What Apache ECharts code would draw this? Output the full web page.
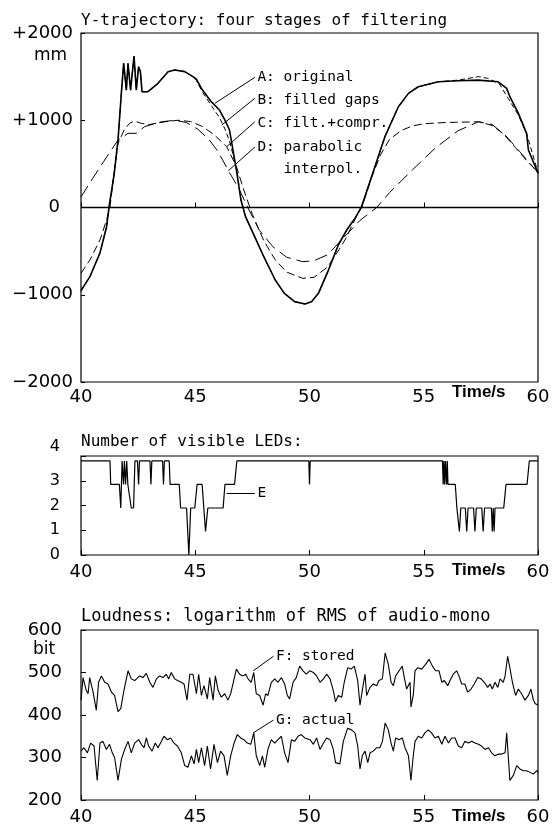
<!DOCTYPE html>
<html>
<head>
<meta charset="utf-8">
<script src="https://cdn.jsdelivr.net/npm/echarts/dist/echarts.min.js"></script>
<style>html,body{margin:0;padding:0;background:#fff}#chart{width:553px;height:826px}</style>
</head>
<body>
<div id="chart"></div>
<script>
// Y-trajectory, [time s, mm]
var origA = [[40,-953],[40.39,-793],[40.83,-522],[41.12,-220],[41.23,9],[41.45,380],[41.62,773],[41.765,1308],[41.867,1652],[41.984,1345],[42.057,1652],[42.17,1345],[42.32,1736],[42.42,1345],[42.52,1614],[42.6,1557],[42.67,1327],[42.93,1327],[43.37,1423],[43.81,1557],[44.1,1576],[44.54,1557],[44.9,1500],[45.05,1470],[45.27,1365],[45.7,1213],[46.06,1117],[46.3,1002],[46.5,888],[46.7,584],[46.8,430],[47.0,86],[47.2,-105],[47.6,-334],[48.0,-564],[48.5,-831],[48.9,-984],[49.35,-1079],[49.8,-1106],[50.09,-1079],[50.39,-984],[50.83,-717],[51.26,-430],[51.63,-258],[51.99,-124],[52.28,10],[52.72,354],[53.3,812],[53.89,1155],[54.33,1308],[54.76,1384],[55.64,1441],[56.51,1453],[57.39,1460],[58.26,1441],[58.63,1365],[58.77,1270],[59.14,1079],[59.5,850],[59.58,659],[60,392]];
var filledB = [[40,-960],[40.39,-790],[40.83,-520],[41.12,-220],[41.23,0],[41.45,400],[41.62,773],[41.765,1308],[41.867,1652],[41.984,1345],[42.057,1652],[42.17,1345],[42.32,1736],[42.42,1345],[42.52,1614],[42.6,1557],[42.67,1327],[42.93,1327],[43.37,1423],[43.81,1557],[44.1,1576],[44.54,1557],[44.9,1500],[45.05,1460],[45.3,1330],[45.7,1170],[46.06,1030],[46.3,900],[46.5,760],[46.7,560],[46.85,380],[47.0,80],[47.2,-105],[47.6,-334],[48.0,-564],[48.5,-831],[48.9,-984],[49.35,-1079],[49.8,-1106],[50.09,-1079],[50.39,-984],[50.83,-717],[51.26,-430],[51.63,-258],[51.99,-124],[52.28,10],[52.72,354],[53.3,812],[53.89,1155],[54.33,1308],[54.76,1384],[55.64,1441],[56.51,1460],[57.39,1500],[57.8,1480],[58.3,1420],[58.7,1250],[59.14,1060],[59.5,850],[60,400]];
var filtC = [[40,-754],[40.39,-602],[40.83,-372],[41.12,-143],[41.27,9],[41.45,400],[41.62,735],[41.91,900],[42.15,970],[42.35,990],[42.64,964],[43.0,951],[43.66,982],[44.25,1000],[44.8,985],[45.3,930],[45.8,840],[46.38,697],[46.8,470],[47.1,220],[47.5,-80],[48.0,-380],[48.5,-600],[49.0,-740],[49.7,-812],[50.2,-800],[50.8,-680],[51.3,-480],[51.6,-350],[52.0,-130],[52.3,10],[52.7,330],[53.1,600],[53.5,780],[54.0,880],[54.5,935],[55.0,960],[56.0,975],[57.0,980],[57.4,983],[58.0,940],[58.5,840],[59.0,690],[59.5,540],[60,400]];
var parabD = [[40,120],[40.5,330],[41.0,530],[41.62,773],[42.06,850],[42.42,850],[42.79,928],[43.52,982],[44.1,1000],[44.6,975],[45.1,900],[45.6,780],[46.0,640],[46.45,422],[46.9,220],[47.3,0],[47.8,-260],[48.4,-450],[49.0,-570],[49.7,-621],[50.2,-610],[50.8,-540],[51.4,-372],[52.2,-150],[52.94,0],[53.5,170],[54.5,430],[55.5,680],[56.5,880],[57.4,983],[58.0,950],[58.6,820],[59.2,640],[60,400]];

// number of visible LEDs, [time s, count]
var ledE = [[40,3.8],[41.27,3.8],[41.3,2.85],[41.68,2.85],[41.74,1.9],[41.8,3.8],[41.86,2.85],[41.9,3.8],[41.95,2.85],[42.0,3.8],[42.05,2.85],[42.1,2.85],[42.2,1.9],[42.3,1.9],[42.36,3.8],[42.47,3.8],[42.52,2.85],[42.56,3.8],[43.02,3.8],[43.06,2.85],[43.1,3.8],[43.57,3.8],[43.61,2.85],[43.65,3.8],[43.86,3.8],[43.9,2.85],[44.3,2.85],[44.36,1.9],[44.62,1.9],[44.72,0],[44.8,1.9],[44.98,1.9],[45.08,2.85],[45.3,2.85],[45.45,0.95],[45.55,1.9],[46.22,1.9],[46.3,2.85],[46.72,2.85],[46.82,3.8],[49.97,3.8],[50.0,2.85],[50.03,3.8],[55.82,3.8],[55.85,2.85],[55.88,3.8],[55.92,2.85],[55.95,3.8],[56.0,2.85],[56.03,3.8],[56.06,2.85],[56.38,2.85],[56.45,1.9],[56.5,1.9],[56.56,0.95],[56.62,1.9],[56.82,1.9],[56.88,0.95],[56.94,1.9],[57.18,1.9],[57.24,0.95],[57.3,1.9],[57.54,1.9],[57.6,0.95],[57.66,1.9],[57.96,1.9],[58.0,0.95],[58.04,1.9],[58.08,0.95],[58.12,1.9],[58.5,1.9],[58.6,2.85],[59.52,2.85],[59.62,3.8],[60,3.8]];

// loudness, [time s, bit]
var storedF = [[40.0,435],[40.09,488],[40.23,458],[40.31,450],[40.38,488],[40.53,454],[40.67,411],[40.77,477],[40.89,492],[41.04,477],[41.18,473],[41.33,454],[41.47,446],[41.62,408],[41.74,415],[41.88,458],[42.06,504],[42.2,485],[42.35,481],[42.57,492],[42.71,488],[42.86,498],[43.01,477],[43.15,465],[43.3,485],[43.44,492],[43.59,488],[43.73,496],[43.84,485],[43.95,500],[44.1,485],[44.22,481],[44.39,477],[44.51,473],[44.64,435],[44.76,496],[44.9,496],[45.05,450],[45.15,496],[45.27,446],[45.38,469],[45.53,438],[45.63,488],[45.78,435],[45.88,492],[46.0,458],[46.14,442],[46.29,450],[46.43,435],[46.55,450],[46.65,473],[46.8,508],[46.94,496],[47.09,492],[47.21,496],[47.31,485],[47.45,477],[47.56,500],[47.67,450],[47.82,446],[47.97,423],[48.08,450],[48.18,446],[48.33,477],[48.48,485],[48.62,477],[48.77,488],[48.91,473],[49.03,446],[49.13,438],[49.28,477],[49.42,488],[49.57,515],[49.72,504],[49.86,496],[50.01,504],[50.17,500],[50.31,492],[50.46,477],[50.61,485],[50.75,496],[50.9,485],[51.04,458],[51.14,431],[51.26,446],[51.41,442],[51.52,477],[51.67,511],[51.82,508],[51.96,515],[52.11,481],[52.21,423],[52.31,458],[52.43,496],[52.5,446],[52.65,465],[52.79,473],[52.94,469],[53.04,481],[53.19,485],[53.31,546],[53.45,519],[53.57,477],[53.67,469],[53.77,492],[53.92,504],[54.06,515],[54.15,488],[54.25,461],[54.4,477],[54.44,419],[54.54,446],[54.62,504],[54.73,511],[54.91,508],[55.08,519],[55.23,531],[55.38,515],[55.52,504],[55.67,504],[55.79,477],[55.9,481],[56.05,469],[56.15,481],[56.29,496],[56.44,504],[56.54,492],[56.66,473],[56.8,473],[56.92,454],[57.07,461],[57.21,473],[57.36,488],[57.51,485],[57.65,477],[57.8,465],[57.9,473],[58.0,461],[58.12,477],[58.24,465],[58.34,485],[58.48,477],[58.56,492],[58.67,538],[58.77,511],[58.88,477],[59.02,446],[59.14,461],[59.28,450],[59.43,435],[59.58,446],[59.69,461],[59.8,435],[59.87,427],[60,423]];
var actualG = [[40.0,315],[40.13,323],[40.28,311],[40.42,334],[40.57,327],[40.71,246],[40.83,334],[40.96,338],[41.11,319],[41.25,331],[41.37,311],[41.47,300],[41.62,246],[41.77,296],[41.91,319],[42.06,338],[42.2,311],[42.35,334],[42.52,342],[42.64,331],[42.76,323],[42.86,346],[42.96,327],[43.11,315],[43.25,334],[43.37,323],[43.52,338],[43.63,350],[43.78,342],[43.92,346],[44.07,334],[44.22,327],[44.39,311],[44.54,281],[44.68,277],[44.83,304],[44.95,285],[45.05,319],[45.15,288],[45.27,323],[45.41,281],[45.53,327],[45.67,273],[45.82,331],[45.97,288],[46.11,315],[46.26,304],[46.4,258],[46.55,304],[46.7,334],[46.84,354],[46.99,346],[47.13,342],[47.28,334],[47.43,331],[47.56,358],[47.67,304],[47.82,281],[47.94,304],[48.04,277],[48.18,319],[48.33,342],[48.48,334],[48.62,342],[48.77,350],[48.91,311],[49.06,288],[49.21,342],[49.35,338],[49.5,350],[49.64,354],[49.79,346],[50.02,342],[50.17,331],[50.31,346],[50.46,319],[50.61,334],[50.75,346],[50.9,342],[51.04,319],[51.14,288],[51.33,285],[51.48,338],[51.67,369],[51.84,365],[51.99,358],[52.11,327],[52.21,273],[52.31,304],[52.43,315],[52.55,288],[52.65,311],[52.79,315],[52.94,323],[53.08,323],[53.19,338],[53.31,381],[53.45,365],[53.57,334],[53.67,315],[53.77,346],[53.92,342],[54.06,346],[54.18,323],[54.33,304],[54.44,246],[54.54,304],[54.62,338],[54.76,350],[54.91,346],[55.05,358],[55.2,365],[55.34,358],[55.49,346],[55.64,350],[55.79,331],[55.93,350],[56.08,334],[56.22,346],[56.37,346],[56.51,327],[56.66,323],[56.8,338],[56.95,334],[57.1,338],[57.24,334],[57.39,331],[57.53,327],[57.68,319],[57.83,323],[57.97,311],[58.12,304],[58.27,308],[58.41,308],[58.56,311],[58.63,358],[58.7,358],[58.77,246],[58.92,258],[59.07,281],[59.21,273],[59.36,269],[59.5,269],[59.65,265],[59.8,261],[59.94,269],[60,265]];

var chart = echarts.init(document.getElementById('chart'));
var FONT = 'DejaVu Sans';
var MONO = 'DejaVu Sans Mono';
var black = '#000';

function xAxisFor(grid, margin) {
  return {
    type: 'value', gridIndex: grid, min: 40, max: 60, interval: 5,
    axisLine: { show: false },
    axisTick: { inside: true, length: 5, lineStyle: { color: black } },
    splitLine: { show: false },
    axisLabel: { color: black, fontFamily: FONT, fontSize: 18, margin: margin }
  };
}

// leader line from a curve to its label, in data coordinates
function leader(from, to) {
  return {
    silent: true, symbol: 'none', animation: false,
    lineStyle: { color: black, width: 1, type: 'solid' },
    label: { show: false },
    data: [[{ coord: from }, { coord: to }]]
  };
}

function tag(at, text, extra) {
  var lbl = { show: true, position: 'right', distance: 2, color: black, fontFamily: MONO, fontSize: 14.5,
    formatter: function () { return text; } };
  if (extra) for (var k in extra) lbl[k] = extra[k];
  return {
    silent: true, animation: false, symbol: 'circle', symbolSize: 1,
    itemStyle: { color: 'rgba(0,0,0,0)' },
    label: lbl,
    data: [{ coord: at }]
  };
}

function line(data, xi, width, dash, from, to, text, extra) {
  var s = {
    type: 'line', xAxisIndex: xi, yAxisIndex: xi, data: data, showSymbol: false,
    lineStyle: { color: black, width: width, type: dash }, animation: false, silent: true
  };
  if (from) {
    s.markLine = leader(from, to);
    s.markPoint = tag(to, text, extra);
  }
  return s;
}

function titleAt(text, top, size) {
  return { text: text, left: 81, top: top, padding: 0,
    textStyle: { fontFamily: MONO, fontSize: size, fontWeight: 'normal', color: black } };
}

function axisName(text, left, top) {
  return { type: 'text', left: left, top: top, style: { text: text, font: '17px "DejaVu Sans"', fill: black } };
}

var option = {
  animation: false,
  title: [
    titleAt('Y-trajectory: four stages of filtering', 13, 16),
    titleAt('Number of visible LEDs:', 434, 16),
    titleAt('Loudness: logarithm of RMS of audio-mono', 608, 17)
  ],
  grid: [
    { left: 81, top: 33, width: 457, height: 349, show: true, borderColor: black, borderWidth: 1.2 },
    { left: 81, top: 456, width: 457, height: 99, show: true, borderColor: black, borderWidth: 1.2 },
    { left: 81, top: 630, width: 457, height: 173, show: true, borderColor: black, borderWidth: 1.2 }
  ],
  xAxis: [xAxisFor(0, 6), xAxisFor(1, 8), xAxisFor(2, 8)],
  yAxis: [
    { type: 'value', gridIndex: 0, min: -2000, max: 2000, interval: 1000,
      axisLine: { show: false }, splitLine: { show: false },
      axisTick: { inside: true, length: 4, lineStyle: { color: black } },
      axisLabel: { color: black, fontFamily: FONT, fontSize: 18, margin: 8,
        formatter: function (v) { return v > 0 ? '+' + v : (v < 0 ? '\u2212' + (-v) : '{z|0}'); },
        rich: { z: { fontFamily: FONT, fontSize: 18, color: black, padding: [0, 13, 0, 0] } } } },
    { type: 'value', gridIndex: 1, min: 0, max: 4, interval: 1,
      axisLine: { show: false }, splitLine: { show: false },
      axisTick: { inside: true, length: 5, lineStyle: { color: black } },
      axisLabel: { color: black, fontFamily: FONT, fontSize: 16, margin: 21,
        formatter: function (v) { return v === 4 ? '{t|4}' : String(v); },
        rich: { t: { fontFamily: FONT, fontSize: 16, color: black, padding: [0, 0, 18, 0] } } } },
    { type: 'value', gridIndex: 2, min: 200, max: 600, interval: 100,
      axisLine: { show: false }, splitLine: { show: false },
      axisTick: { inside: true, length: 5, lineStyle: { color: black } },
      axisLabel: { color: black, fontFamily: FONT, fontSize: 18, margin: 19 } }
  ],
  graphic: [
    axisName('mm', 34, 47),
    axisName('bit', 33, 641),
    { type: 'text', left: 452, top: 384, style: { text: 'Time/s', font: 'bold 17px "Liberation Sans"', fill: black } },
    { type: 'text', left: 452, top: 562, style: { text: 'Time/s', font: 'bold 17px "Liberation Sans"', fill: black } },
    { type: 'text', left: 452, top: 808, style: { text: 'Time/s', font: 'bold 17px "Liberation Sans"', fill: black } }
  ],
  series: [
    line(origA, 0, 1.6, 'solid', [45.86, 1194], [47.61, 1492], 'A: original'),
    line(filledB, 0, 1, [5, 3], [46.16, 945], [47.61, 1252], 'B: filled gaps', { offset: [0, 2] }),
    line(filtC, 0, 1, [8, 4], [46.38, 697], [47.61, 983], 'C: filt.+compr.', { offset: [0, 2] }),
    line(parabD, 0, 1, [13, 6], [46.45, 422], [47.61, 693], 'D: parabolic\n   interpol.', { lineHeight: 22, offset: [0, 11] }),
    line([[40, 0], [60, 0]], 0, 1.6, 'solid'),
    line(ledE, 1, 1.2, 'solid', [46.37, 2.5], [47.61, 2.5], 'E'),
    line(storedF, 2, 1.1, 'solid', [47.54, 504], [48.42, 538], 'F: stored'),
    line(actualG, 2, 1.1, 'solid', [47.54, 358], [48.42, 388], 'G: actual')
  ]
};
chart.setOption(option);
</script>
</body>
</html>
